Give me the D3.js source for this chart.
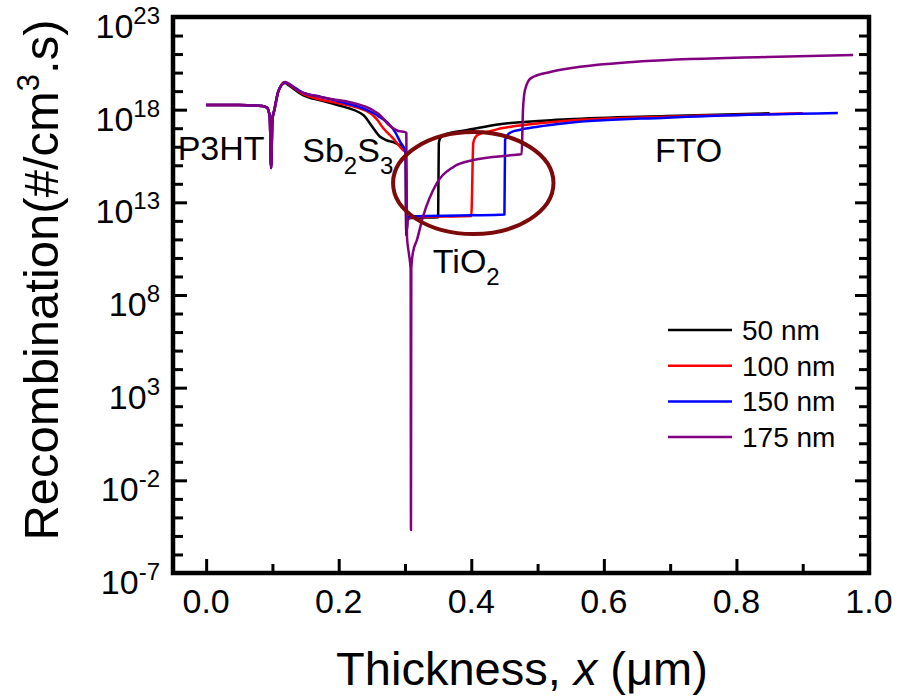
<!DOCTYPE html>
<html>
<head>
<meta charset="utf-8">
<script src="https://cdn.jsdelivr.net/npm/d3@7"></script>
<style>
  body { margin: 0; background: #fff; }
  text { font-family: Arial, "Liberation Sans", sans-serif; fill: #000; }
</style>
</head>
<body>
<div id="chart"></div>
<script>
// thickness positions (um) and log10 of recombination rate
var x50  = [0, 0.05, 0.085, 0.092, 0.096, 0.098, 0.1, 0.103, 0.109, 0.119, 0.125, 0.146, 0.172, 0.198, 0.237, 0.252, 0.262, 0.272, 0.282, 0.297, 0.301, 0.302, 0.304, 0.31, 0.33, 0.35, 0.351, 0.353, 0.358, 0.368, 0.394, 0.44, 0.545, 0.695, 0.85];
var r50  = [18.25, 18.25, 18.2, 18.1, 17.6, 14.85, 17.5, 18.0, 19.0, 19.44, 19.3, 18.79, 18.5, 18.25, 17.71, 17.01, 16.55, 16.35, 16.25, 15.93, 15.7, 11.24, 12.1, 12.15, 12.18, 12.2, 16.2, 16.45, 16.62, 16.74, 16.9, 17.2, 17.48, 17.66, 17.8];

var x100 = [0, 0.05, 0.085, 0.092, 0.096, 0.098, 0.1, 0.103, 0.109, 0.119, 0.125, 0.146, 0.172, 0.198, 0.247, 0.257, 0.267, 0.282, 0.297, 0.301, 0.302, 0.304, 0.31, 0.36, 0.4, 0.403, 0.406, 0.412, 0.424, 0.44, 0.463, 0.545, 0.695, 0.9];
var r100 = [18.25, 18.25, 18.2, 18.1, 17.6, 14.85, 17.5, 18.0, 19.0, 19.46, 19.35, 18.85, 18.55, 18.36, 17.82, 17.5, 17.01, 16.45, 15.82, 15.7, 11.24, 12.15, 12.2, 12.23, 12.26, 16.2, 16.5, 16.68, 16.8, 16.95, 17.1, 17.4, 17.62, 17.8];

var x150 = [0, 0.05, 0.085, 0.092, 0.096, 0.098, 0.1, 0.103, 0.109, 0.119, 0.125, 0.146, 0.172, 0.198, 0.252, 0.262, 0.273, 0.285, 0.293, 0.3, 0.301, 0.302, 0.304, 0.31, 0.4, 0.45, 0.451, 0.454, 0.46, 0.474, 0.5, 0.545, 0.695, 0.953];
var r150 = [18.25, 18.25, 18.2, 18.1, 17.6, 14.85, 17.5, 18.0, 19.0, 19.47, 19.38, 18.92, 18.7, 18.47, 17.82, 17.6, 17.33, 16.8, 16.25, 15.82, 15.7, 11.24, 12.2, 12.25, 12.3, 12.35, 16.36, 16.6, 16.78, 16.92, 17.08, 17.28, 17.57, 17.82];

var x175 = [0, 0.05, 0.085, 0.092, 0.096, 0.098, 0.1, 0.103, 0.109, 0.119, 0.125, 0.137, 0.172, 0.222, 0.25, 0.262, 0.275, 0.282, 0.29, 0.3, 0.302, 0.303, 0.306, 0.3085, 0.309, 0.3095, 0.312, 0.318, 0.327, 0.348, 0.373, 0.403, 0.463, 0.476, 0.478, 0.481, 0.49, 0.519, 0.644, 0.846, 0.976];
var r175 = [18.25, 18.25, 18.2, 18.1, 17.6, 14.85, 17.5, 18.0, 19.0, 19.49, 19.4, 19.06, 18.68, 18.36, 18.0, 17.71, 17.2, 17.0, 16.85, 16.79, 16.74, 11.13, 10.2, 9.4, -4.68, 9.4, 10.3, 10.97, 12.21, 14.04, 14.91, 15.28, 15.55, 15.6, 18.0, 19.06, 19.7, 20.03, 20.57, 20.84, 20.95];

var seriesNames  = ['50 nm', '100 nm', '150 nm', '175 nm'];
var seriesColors = ['#000000', '#ff0000', '#0000ff', '#800080'];

var xTicks = [0, 0.2, 0.4, 0.6, 0.8, 1.0];
var xMinorTicks = [0.1, 0.3, 0.5, 0.7, 0.9];
var yExpTicks = [-7, -2, 3, 8, 13, 18, 23];

// layer names and where they sit: [x (um), log10 rate]
var layerLabels = [
  {name: 'P3HT', sub: [], x: -0.043, y: 15.3},
  {name: 'Sb', sub: ['2', 'S', '3'], x: 0.145, y: 15.2},
  {name: 'TiO', sub: ['2'], x: 0.342, y: 9.2},
  {name: 'FTO', sub: [], x: 0.677, y: 15.2}
];

// the highlight ring round the TiO2 jumps: centre and half-widths
var ring = {x: 0.403, y: 14.04, rx: 0.121, ry: 2.75};

var margin = {top: 17, right: 32, bottom: 127, left: 173},
    w = 901 - margin.left - margin.right,
    h = 700 - margin.top - margin.bottom;

var svg = d3.select('#chart').append('svg')
            .attr('width', 901)
            .attr('height', 700);

var xScale = d3.scaleLinear().domain([-0.05, 1.0]).range([0, w]);
var yScale = d3.scaleLog().domain([1e-7, 1e23]).range([h, 0]);

function pow10(e) { return Math.pow(10, e); }

var focus = svg.append('g')
               .attr('transform', 'translate(' + margin.left + ',' + margin.top + ')');

var curve = d3.line()
              .x(function(d) { return xScale(d[0]); })
              .y(function(d) { return yScale(pow10(d[1])); })
              .curve(d3.curveMonotoneX);

var allX = [x50, x100, x150, x175],
    allR = [r50, r100, r150, r175];

var series = allX.map(function(xs, i) {
  return {name: seriesNames[i], color: seriesColors[i], pts: xs.map(function(v, j) { return [v, allR[i][j]]; })};
});

focus.selectAll('.curve')
     .data(series)
     .enter().append('path')
     .attr('class', 'curve')
     .attr('fill', 'none')
     .attr('stroke', function(d) { return d.color; })
     .attr('stroke-width', 2.5)
     .attr('stroke-linejoin', 'round')
     .attr('d', function(d) { return curve(d.pts); });

// highlight ellipse
var cy = yScale(pow10(ring.y));
focus.append('ellipse')
     .attr('cx', xScale(ring.x))
     .attr('cy', cy)
     .attr('rx', xScale(ring.x + ring.rx) - xScale(ring.x))
     .attr('ry', yScale(pow10(ring.y - ring.ry)) - cy)
     .attr('fill', 'none')
     .attr('stroke', '#7d0a0a')
     .attr('stroke-width', 4);

// layer labels with subscripts
layerLabels.forEach(function(l) {
  var t = focus.append('text')
               .attr('x', xScale(l.x))
               .attr('y', yScale(pow10(l.y)))
               .style('font-size', '34px');
  t.append('tspan').text(l.name);
  l.sub.forEach(function(s) {
    var isSub = (s >= '0' && s <= '9');
    t.append('tspan')
     .attr('dy', isSub ? 12 : -12)
     .style('font-size', isSub ? '24px' : '34px')
     .text(s);
  });
});

// ticks, all pointing inward, via d3 axes
function styleAxis(g) {
  g.select('.domain').remove();
  g.selectAll('.tick line').attr('stroke', '#000').attr('stroke-width', 3);
  g.selectAll('.tick text').remove();
}
var yMinor = d3.range(-7, 24).filter(function(e) { return yExpTicks.indexOf(e) < 0; });

focus.append('g').attr('transform', 'translate(0,' + h + ')')
     .call(d3.axisTop(xScale).tickValues(xTicks).tickSize(14)).call(styleAxis);
focus.append('g').attr('transform', 'translate(0,' + h + ')')
     .call(d3.axisTop(xScale).tickValues(xMinorTicks).tickSize(9)).call(styleAxis);
focus.append('g')
     .call(d3.axisRight(yScale).tickValues(yExpTicks.map(pow10)).tickSize(14)).call(styleAxis);
focus.append('g')
     .call(d3.axisRight(yScale).tickValues(yMinor.map(pow10)).tickSize(10)).call(styleAxis);
focus.append('g').attr('transform', 'translate(' + w + ',0)')
     .call(d3.axisLeft(yScale).tickValues(yExpTicks.map(pow10)).tickSize(14)).call(styleAxis);
focus.append('g').attr('transform', 'translate(' + w + ',0)')
     .call(d3.axisLeft(yScale).tickValues(yMinor.map(pow10)).tickSize(10)).call(styleAxis);

// frame
focus.append('rect')
     .attr('width', w)
     .attr('height', h)
     .attr('fill', 'none')
     .attr('stroke', '#000')
     .attr('stroke-width', 4.5);

// x tick labels
focus.selectAll('.xlab')
     .data(xTicks)
     .enter().append('text')
     .attr('class', 'xlab')
     .attr('x', function(d) { return xScale(d); })
     .attr('y', h + 40)
     .attr('text-anchor', 'middle')
     .style('font-size', '34px')
     .text(function(d) { return d.toFixed(1); });

// y tick labels as powers of ten
var ylab = focus.selectAll('.ylab')
                .data(yExpTicks)
                .enter().append('text')
                .attr('class', 'ylab')
                .attr('x', -13)
                .attr('y', function(d) { return yScale(pow10(d)) + 21; })
                .attr('text-anchor', 'end')
                .style('font-size', '34px');
ylab.append('tspan').text('10');
ylab.append('tspan')
    .attr('dy', -14)
    .style('font-size', '24px')
    .text(function(d) { return d; });

// legend
var legend = focus.append('g')
                  .attr('transform', 'translate(' + (w - 201) + ',' + 313 + ')');
var key = legend.selectAll('g')
                .data(series)
                .enter().append('g')
                .attr('transform', function(d, i) { return 'translate(0,' + (i * 35.7) + ')'; });
key.append('line')
   .attr('x1', 0).attr('x2', 64)
   .attr('stroke', function(d) { return d.color; })
   .attr('stroke-width', 2.5);
key.append('text')
   .attr('x', 74)
   .attr('y', 10)
   .style('font-size', '28px')
   .text(function(d) { return d.name; });

// axis titles
var xt = svg.append('text')
            .attr('x', 522)
            .attr('y', 685)
            .attr('text-anchor', 'middle')
            .style('font-size', '47px');
xt.append('tspan').text('Thickness, ');
xt.append('tspan').style('font-style', 'italic').text('x');
xt.append('tspan').text(' (\u03bcm)');

var yt = svg.append('text')
            .attr('transform', 'translate(58,280)rotate(-90)')
            .attr('text-anchor', 'middle')
            .style('font-size', '49px');
yt.append('tspan').text('Recombination(#/cm');
yt.append('tspan').attr('dy', -19).style('font-size', '31px').text('3');
yt.append('tspan').attr('dy', 19).text('.s)');
</script>
</body>
</html>
